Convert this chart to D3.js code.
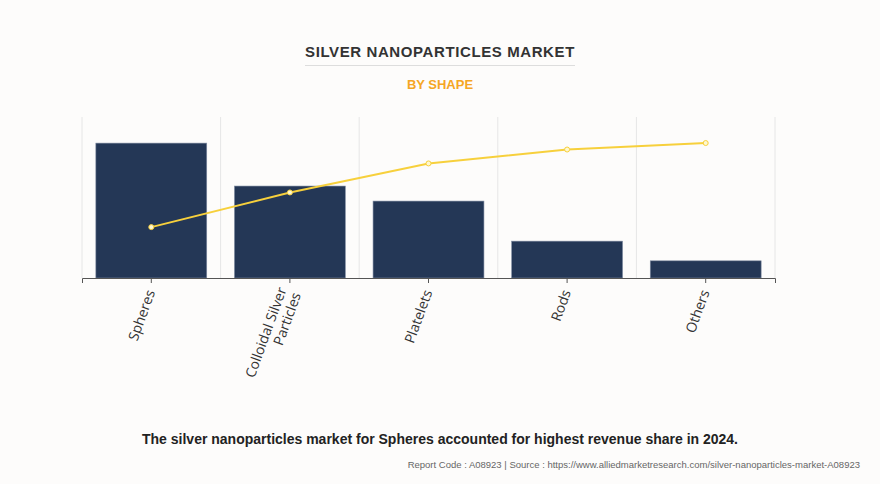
<!DOCTYPE html>
<html><head><meta charset="utf-8">
<script src="https://cdn.jsdelivr.net/npm/d3@7"></script>
<style>body{margin:0;background:#fdfcfb;font-family:Arial,"Liberation Sans",sans-serif}</style>
</head><body><svg id="c" width="880" height="484"></svg>
<script>
const categories=["Spheres","Colloidal Silver Particles","Platelets","Rods","Others"];
const shareValues=[37.7,25.7,21.5,10.3,4.8];
const cumulativeValues=[37.7,63.4,84.9,95.2,100];
const svg=d3.select("#c");
svg.append("rect").attr("width",880).attr("height",484).attr("fill","#fdfcfb");
svg.append("text").attr("x",440).attr("y",57).attr("text-anchor","middle").attr("font-size",15).attr("font-weight","bold").attr("fill","#333").attr("letter-spacing",0.6).text("SILVER NANOPARTICLES MARKET");
svg.append("line").attr("x1",305).attr("x2",575).attr("y1",65.5).attr("y2",65.5).attr("stroke","#ddd");
svg.append("text").attr("x",440).attr("y",89).attr("text-anchor","middle").attr("font-size",13).attr("font-weight","bold").attr("fill","#f5a623").text("BY SHAPE");
const L=82,R=775,T=117,B=278;
const x=d3.scaleBand().domain(categories).range([L,R]).paddingInner(0.2).paddingOuter(0.1);
const xb=d3.scaleBand().domain(categories).range([L,R]);
const y=d3.scaleLinear().domain([0,45]).range([B,T]);
const y2=d3.scaleLinear().domain([0,119.3]).range([B,T]);
const g=svg.append("g");
g.selectAll(".gl").data(d3.range(categories.length+1)).join("line").attr("x1",i=>L+i*xb.step()).attr("x2",i=>L+i*xb.step()).attr("y1",T).attr("y2",B).attr("stroke","#e6e6e6");
g.selectAll(".bar").data(categories).join("rect").attr("x",d=>x(d)).attr("width",x.bandwidth()).attr("y",(d,i)=>y(shareValues[i])).attr("height",(d,i)=>B-y(shareValues[i])).attr("fill","#243756").attr("stroke","#7d8aa0").attr("stroke-width",0.6);
const cx=d=>xb(d)+xb.bandwidth()/2;
g.append("path").datum(categories).attr("fill","none").attr("stroke","#f7d03c").attr("stroke-width",2).attr("d",d3.line().x(cx).y((d,i)=>y2(cumulativeValues[i])));
g.selectAll(".pt").data(categories).join("circle").attr("cx",cx).attr("cy",(d,i)=>y2(cumulativeValues[i])).attr("r",2.5).attr("fill","#fff8d0").attr("stroke","#f7d03c");
const ax=svg.append("g").attr("transform",`translate(0,${B})`).call(d3.axisBottom(xb).tickSize(5).tickFormat(""));
ax.select(".domain").attr("stroke","#555");ax.selectAll(".tick line").attr("stroke","#555");
const lab=svg.append("g");
categories.forEach(c=>{
  const t=lab.append("text").attr("transform",`translate(${cx(c)+4},${B+14}) rotate(-70)`).attr("text-anchor","end").attr("font-family","'Open Sans',sans-serif").attr("font-size",14).attr("fill","#333");
  if(c==="Colloidal Silver Particles"){
    t.append("tspan").attr("x",0).attr("dy","-0.55em").text("Colloidal Silver");
    t.append("tspan").attr("x",0).attr("dy","1.1em").text("Particles");
  } else t.text(c);
});
svg.append("text").attr("x",440).attr("y",444).attr("text-anchor","middle").attr("font-size",14).attr("font-weight","bold").attr("fill","#222").text("The silver nanoparticles market for Spheres accounted for highest revenue share in 2024.");
svg.append("text").attr("x",860).attr("y",468).attr("text-anchor","end").attr("font-size",9.5).attr("fill","#666").text("Report Code : A08923  |  Source : https://www.alliedmarketresearch.com/silver-nanoparticles-market-A08923");
</script></body></html>
